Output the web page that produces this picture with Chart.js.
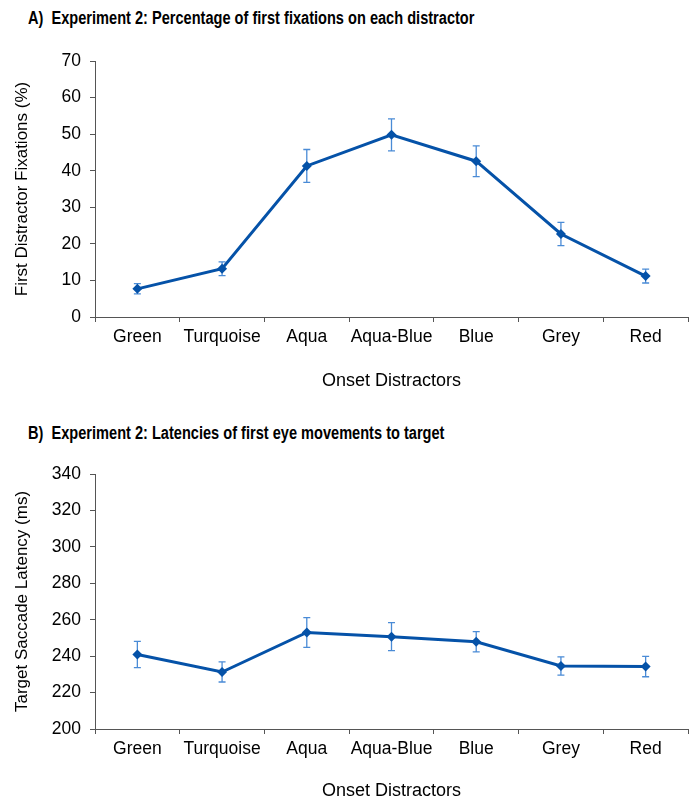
<!DOCTYPE html>
<html>
<head>
<meta charset="utf-8">
<script src="https://cdn.jsdelivr.net/npm/chart.js@4.4.0/dist/chart.umd.min.js"></script>
<style>
  html, body { margin: 0; padding: 0; background: #fff; }
  body { width: 694px; height: 802px; position: relative; overflow: hidden; font-family: "Liberation Sans", Arial, sans-serif; }
  .panel-title {
    position: absolute; left: 28px; margin: 0;
    font-size: 18px; font-weight: bold; color: #000; white-space: pre;
    transform: scaleX(0.81); transform-origin: left center;
  }
  canvas { position: absolute; left: 0; }
</style>
</head>
<body>
<div class="panel-title" style="top:8px">A)  Experiment 2: Percentage of first fixations on each distractor</div>
<canvas id="chart-a" style="top:0" width="694" height="400"></canvas>
<div class="panel-title" style="top:423px">B)  Experiment 2: Latencies of first eye movements to target</div>
<canvas id="chart-b" style="top:410px" width="694" height="392"></canvas>

<script>
// ---- Données ----
const distractors = ['Green', 'Turquoise', 'Aqua', 'Aqua-Blue', 'Blue', 'Grey', 'Red'];

const fixations = [7.7, 13.2, 41.3, 49.8, 42.6, 22.7, 11.2];
const fixationsErr = [1.4, 1.9, 4.5, 4.4, 4.2, 3.2, 1.9];

const latencies = [240.9, 231.3, 253.0, 250.7, 247.9, 234.6, 234.3];
const latenciesErr = [7.2, 5.5, 8.2, 7.7, 5.6, 5.0, 5.6];

const LINE_COLOR = '#0552a8';
const ERR_COLOR = '#4a8bd6';
const FONT = 'Liberation Sans, Arial, sans-serif';

// barres d'erreur dessinées sous les marqueurs
const errorBars = {
  id: 'errorBars',
  beforeDatasetsDraw(chart) {
    const { ctx, scales: { x, y } } = chart;
    chart.data.datasets.forEach(ds => {
      if (!ds.errors) return;
      ctx.save();
      ctx.strokeStyle = ERR_COLOR;
      ctx.lineWidth = 1.3;
      ds.data.forEach((v, i) => {
        const px = x.getPixelForValue(i);
        const top = y.getPixelForValue(v + ds.errors[i]);
        const bot = y.getPixelForValue(v - ds.errors[i]);
        ctx.beginPath();
        ctx.moveTo(px, top); ctx.lineTo(px, bot);
        ctx.moveTo(px - 3.5, top); ctx.lineTo(px + 3.5, top);
        ctx.moveTo(px - 3.5, bot); ctx.lineTo(px + 3.5, bot);
        ctx.stroke();
      });
      ctx.restore();
    });
  }
};

function makeChart(id, values, errors, yMin, yMax, yTitle, padTop, xHeight, titlePad) {
  return new Chart(document.getElementById(id), {
    type: 'line',
    data: {
      labels: distractors,
      datasets: [{
        data: values,
        errors: errors,
        borderColor: LINE_COLOR,
        backgroundColor: LINE_COLOR,
        borderWidth: 3,
        pointStyle: 'rectRot',
        pointRadius: 5,
        pointBorderWidth: 0,
        tension: 0
      }]
    },
    options: {
      responsive: false,
      animation: false,
      layout: { padding: { top: padTop, right: 6, left: 0, bottom: 0 } },
      plugins: { legend: { display: false }, tooltip: { enabled: false } },
      scales: {
        x: {
          offset: true,
          grid: { offset: true, drawOnChartArea: false, tickLength: 5, color: '#555', tickColor: '#555' },
          border: { color: '#555', width: 1 },
          ticks: { autoSkip: false, color: '#000', padding: 5, maxRotation: 0, font: { family: FONT, size: 17.5 } },
          title: { display: true, text: 'Onset Distractors', color: '#000', padding: { bottom: titlePad }, font: { family: FONT, size: 18 } },
          afterFit: s => { s.height = xHeight; }
        },
        y: {
          min: yMin,
          max: yMax,
          grid: { drawOnChartArea: false, tickLength: 5, color: '#555', tickColor: '#555' },
          border: { color: '#555', width: 1 },
          ticks: { stepSize: yMin === 0 ? 10 : 20, color: '#000', padding: 9, font: { family: FONT, size: 17.5 } },
          title: { display: true, text: yTitle, color: '#000', padding: { top: 12 }, font: { family: FONT, size: 17 } },
          afterFit: s => { s.width = 95; }
        }
      }
    },
    plugins: [errorBars]
  });
}

makeChart('chart-a', fixations, fixationsErr, 0, 70, 'First Distractor Fixations (%)', 61, 83, 8);
makeChart('chart-b', latencies, latenciesErr, 200, 340, 'Target Saccade Latency (ms)', 64, 73, 0);
</script>
</body>
</html>
